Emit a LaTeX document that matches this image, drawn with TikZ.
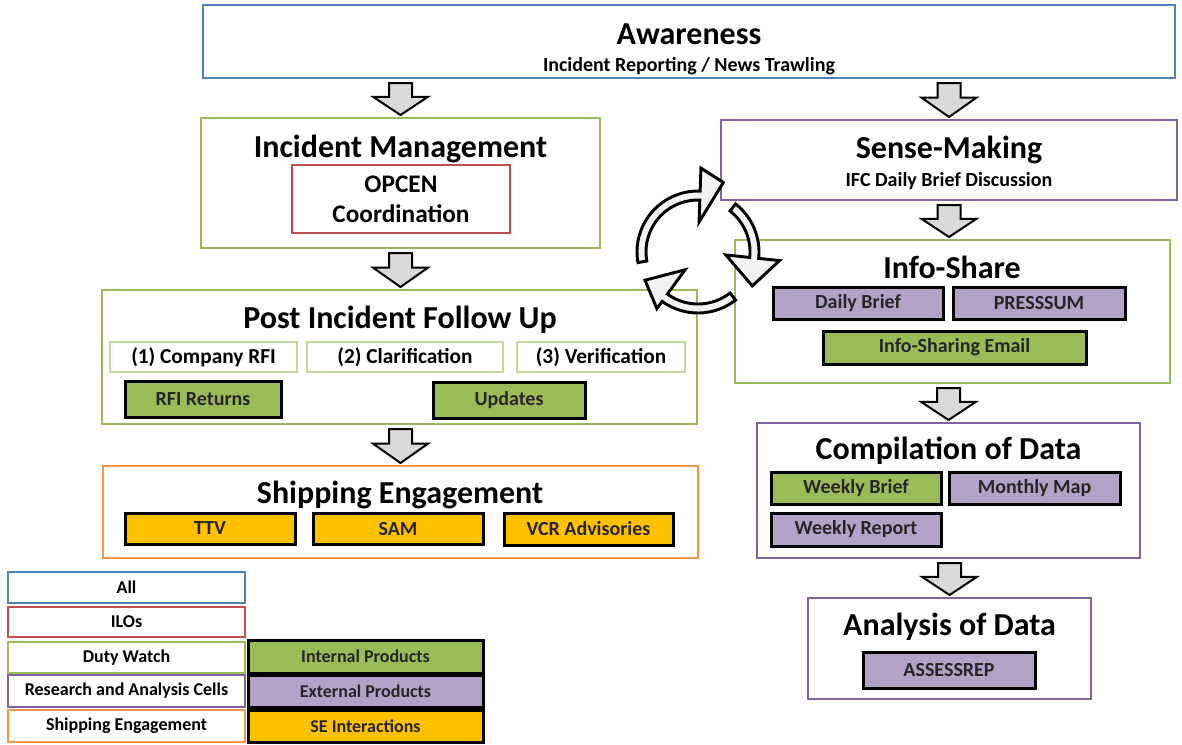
\documentclass[tikz,border=0pt]{standalone}
\usepackage{fontspec}
\setmainfont{Carlito}
\usetikzlibrary{calc}

\definecolor{bluebox}{RGB}{79,129,189}
\definecolor{redbox}{RGB}{192,80,77}
\definecolor{greenbox}{RGB}{155,187,89}
\definecolor{purplebox}{RGB}{128,100,162}
\definecolor{orangebox}{RGB}{247,150,70}
\definecolor{greenfill}{RGB}{155,187,89}
\definecolor{purplefill}{RGB}{178,162,199}
\definecolor{orangefill}{RGB}{255,192,0}
\definecolor{lightgreen}{RGB}{196,215,155}
\definecolor{arrowgray}{RGB}{217,217,217}

\tikzset{every picture/.style={line width=0.75pt}}
\tikzset{
  sz/.style 2 args={minimum width=#1*0.75pt, minimum height=#2*0.75pt},
  stage/.style={draw=#1, line width=1.5pt, fill=white, inner sep=0pt},
  stagetitle/.style={anchor=base, inner sep=0pt, font=\bfseries\fontsize{24}{28}\selectfont},
  stagesub/.style={anchor=base, inner sep=0pt, font=\bfseries\fontsize{15}{18}\selectfont},
  stepbox/.style={draw=lightgreen, line width=1.5pt, fill=white, inner sep=0pt, font=\bfseries\fontsize{16}{19}\selectfont},
  prod/.style={draw=black, line width=2.25pt, fill=#1, inner sep=0pt, text=black!85, font=\bfseries\fontsize{15}{18}\selectfont},
  legbox/.style={draw=#1, line width=1.5pt, fill=white, inner sep=0pt, font=\bfseries\fontsize{13.5}{16}\selectfont},
  blockarr/.style={draw=black, line width=1.5pt, fill=arrowgray, line join=miter},
  cyclearr/.style={draw=black, line width=2.2pt, fill=black!5, line join=miter}
}

% down arrow: #1 source point, #2 target point
\newcommand{\blockarrow}[2]{%
  \path ($(#1)+(0,4)$) coordinate (bt) ($(#2)+(0,-2)$) coordinate (bb);
  \draw[blockarr] ($(bt)+(-11.5,0)$) -- ($(bt)+(11.5,0)$) -- ($(bt)!0.43!(bb)+(11.5,0)$) -- ($(bt)!0.43!(bb)+(27.5,0)$) -- (bb) -- ($(bt)!0.43!(bb)+(-27.5,0)$) -- ($(bt)!0.43!(bb)+(-11.5,0)$) -- cycle;}

% curved arrow round (cyc): start, head base, tip angle, barb radii, tip radius
\newcommand{\cyclearrow}[6]{%
  \draw[cyclearr] ($(cyc)+(#1:61)$) arc[start angle=#1, end angle=#2, radius=61] -- ($(cyc)+(#2:#5)$) -- ($(cyc)+(#3:#6)$) -- ($(cyc)+(#2:#4)$) -- ($(cyc)+(#2:52)$) arc[start angle=#2, end angle=#1, radius=52] -- cycle;}

\begin{document}
\begin{tikzpicture}[x=0.75pt,y=0.75pt,yscale=-1,xscale=1]
\path[use as bounding box] (0,0) rectangle (1182,744);

%Awareness
\node[stage=bluebox, sz={972}{73}] (aware) at (689,41.5) {};
\node[stagetitle] (awaretitle) at (689,44) {Awareness};
\node[stagesub] (awaresub) at (689,71) {Incident Reporting / News Trawling};

%Incident Management
\node[stage=greenbox, sz={399}{130}] (inc) at (400.5,183) {};
\node[stagetitle] (inctitle) at (400.5,157) {Incident Management};
\node[stage=redbox, sz={218}{68}, align=center, font=\bfseries\fontsize{19}{22.5}\selectfont] (opcen) at (401,199) {OPCEN\\Coordination};

%Post Incident Follow Up
\node[stage=greenbox, sz={595}{134}] (post) at (399.5,357) {};
\node[stagetitle] (posttitle) at (400,328) {Post Incident Follow Up};
\node[stepbox, sz={187}{30}] (rfi) at (203.5,357) {(1) Company RFI};
\node[stepbox, sz={196}{30}] (clar) at (405,357) {(2) Clarification};
\node[stepbox, sz={168}{30}] (verif) at (601,357) {(3) Verification};
\node[prod=greenfill, sz={156}{36}] (rfiret) at (203,399) {RFI Returns};
\node[prod=greenfill, sz={152}{36}] (upd) at (509,400) {Updates};

%Shipping Engagement
\node[stage=orangebox, sz={595}{92}] (ship) at (400.5,512) {};
\node[stagetitle] (shiptitle) at (400,503) {Shipping Engagement};
\node[prod=orangefill, sz={170}{31}] (ttv) at (210,528.5) {TTV};
\node[prod=orangefill, sz={170}{31}] (sam) at (398,528.5) {SAM};
\node[prod=orangefill, sz={169}{32}] (vcr) at (588.5,529) {VCR Advisories};

%Sense-Making
\node[stage=purplebox, sz={456}{80}] (sense) at (949,160) {};
\node[stagetitle] (sensetitle) at (949,158) {Sense-Making};
\node[stagesub] (sensesub) at (949,186) {IFC Daily Brief Discussion};

%Info-Share
\node[stage=greenbox, sz={435}{143}] (info) at (952.5,311.5) {};
\node[stagetitle] (infotitle) at (952,278) {Info-Share};
\node[prod=purplefill, sz={170}{32}] (dbrief) at (858,303) {Daily Brief};
\node[prod=purplefill, sz={172}{32}] (presssum) at (1039,303) {PRESSSUM};
\node[prod=greenfill, sz={263}{33}] (email) at (954.5,347.5) {Info-Sharing Email};

%Compilation of Data
\node[stage=purplebox, sz={383}{135}] (comp) at (948.5,490.5) {};
\node[stagetitle] (comptitle) at (948.5,459) {Compilation of Data};
\node[prod=greenfill, sz={170}{32}] (wbrief) at (856,488) {Weekly Brief};
\node[prod=purplefill, sz={171}{32}] (mmap) at (1034.5,488) {Monthly Map};
\node[prod=purplefill, sz={170}{33}] (wrep) at (856,529.5) {Weekly Report};

%Analysis of Data
\node[stage=purplebox, sz={283}{101}] (anal) at (949.5,648.5) {};
\node[stagetitle] (analtitle) at (949.5,635) {Analysis of Data};
\node[prod=purplefill, sz={172}{36}] (assess) at (949,670) {ASSESSREP};

%Down arrows
\blockarrow{aware.south -| inc.north}{inc.north}
\blockarrow{inc.south}{post.north -| inc.south}
\blockarrow{post.south -| ship.north}{ship.north}
\blockarrow{aware.south -| sense.north}{sense.north}
\blockarrow{sense.south}{info.north -| sense.south}
\blockarrow{info.south -| comp.north}{comp.north}
\blockarrow{comp.south -| anal.north}{anal.north}

%Cycle
\coordinate (cyc) at (698,252);
\cyclearrow{170}{272}{290}{30}{84}{74}
\cyclearrow{308}{366}{392}{28}{82}{64}
\cyclearrow{52}{126}{152}{22}{70}{60}

%Legend
\node[legbox=bluebox, sz={237}{31}] (legall) at (126.5,587.5) {All};
\node[legbox=redbox, sz={237}{30}] (legilo) at (126.5,622) {ILOs};
\node[legbox=greenbox, sz={237}{31}] (legduty) at (126.5,657.5) {Duty Watch};
\node[legbox=purplebox, sz={237}{32}] (legrac) at (126.5,691) {Research and Analysis Cells};
\node[legbox=orangebox, sz={237}{32}] (legse) at (126.5,726) {Shipping Engagement};
\node[prod=greenfill, sz={235}{33}, font=\bfseries\fontsize{13.5}{16}\selectfont] (legint) at (365.5,656.5) {Internal Products};
\node[prod=purplefill, sz={235}{32}, font=\bfseries\fontsize{13.5}{16}\selectfont] (legext) at (365.5,691) {External Products};
\node[prod=orangefill, sz={235}{32}, font=\bfseries\fontsize{13.5}{16}\selectfont] (legsei) at (365.5,726) {SE Interactions};

\end{tikzpicture}
\end{document}
